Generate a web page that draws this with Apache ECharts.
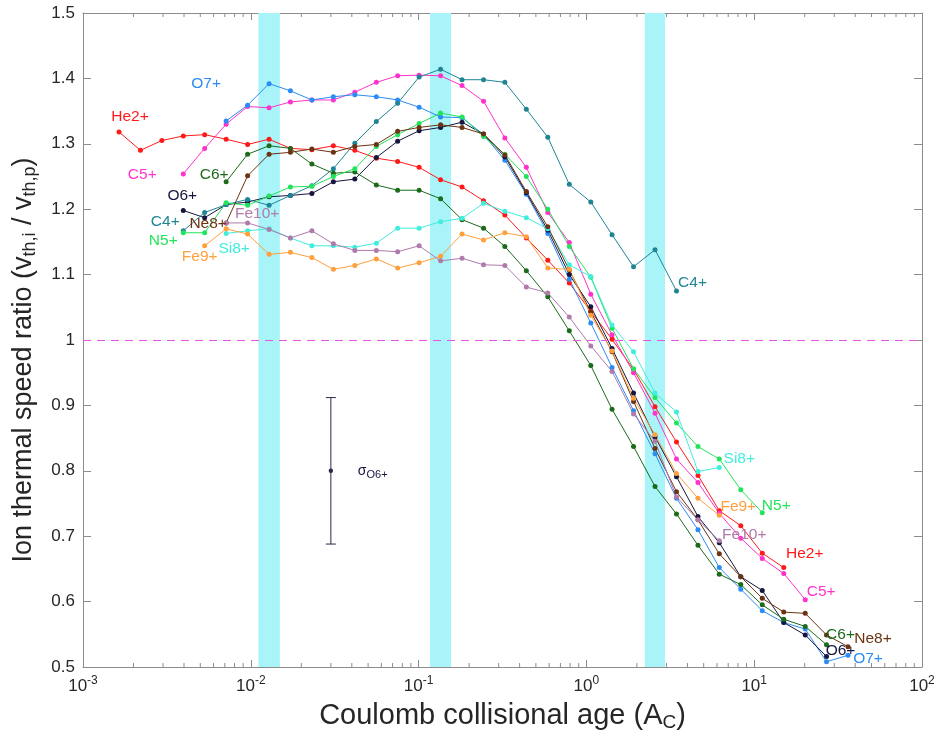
<!DOCTYPE html>
<html><head><meta charset="utf-8">
<script src="https://cdn.jsdelivr.net/npm/echarts@6/dist/echarts.min.js"></script>
<style>html,body{margin:0;padding:0;background:#fff}#c{width:941px;height:740px}</style>
</head><body><div id="c"></div>
<script>
// Shared bin centres (Coulomb collisional age A_C)
const xGrid = [0.00164,0.00220,0.00295,0.00396,0.00531,0.00713,0.00957,0.01285,0.01722,0.02312,0.03105,0.04169,0.05598,0.07499,0.1007,0.1352,0.1815,0.2438,0.3266,0.4385,0.5888,0.7907,1.062,1.422,1.910,2.564,3.443,4.624,6.194,8.318,11.17,15.00,20.14,26.98,36.22];

// series values (start index into xGrid, then values)
const he2Start = 0;  const he2  = [1.318,1.290,1.305,1.312,1.314,1.307,1.299,1.307,1.293,1.291,1.297,1.290,1.278,1.273,1.264,1.245,1.234,1.213,1.191,1.156,1.122,1.087,1.044,1.001,0.955,0.898,0.844,0.793,0.739,0.716,0.674,0.652];
const c5Start  = 3;  const c5   = [1.254,1.293,1.330,1.357,1.355,1.364,1.367,1.367,1.379,1.394,1.404,1.405,1.404,1.389,1.365,1.309,1.264,1.195,1.149,1.070,1.008,0.950,0.888,0.818,0.782,0.735,0.697,0.666,0.643,0.603];
const o7Start  = 5;  const o7   = [1.335,1.359,1.392,1.381,1.367,1.372,1.375,1.372,1.367,1.356,1.341,1.340,1.314,1.275,1.223,1.163,1.093,1.026,0.958,0.892,0.826,0.758,0.710,0.652,0.619,0.586,0.568,0.558,0.508,0.518];
const o6Start  = 3;  const o6   = [1.198,1.187,1.207,1.211,1.219,1.221,1.224,1.242,1.246,1.279,1.304,1.320,1.325,1.333,1.315,1.280,1.225,1.168,1.100,1.051,0.987,0.919,0.852,0.791,0.730,0.690,0.638,0.617,0.568,0.549,0.516];
const c4Start  = 3;  const c4   = [1.167,1.195,1.207,1.215,1.206,1.221,1.236,1.262,1.301,1.334,1.362,1.402,1.414,1.398,1.398,1.394,1.353,1.310,1.238,1.211,1.161,1.112,1.138,1.075];
const c6Start  = 5;  const c6   = [1.242,1.284,1.297,1.293,1.269,1.255,1.257,1.237,1.229,1.229,1.216,1.184,1.171,1.143,1.106,1.066,1.014,0.961,0.894,0.837,0.776,0.734,0.686,0.642,0.626,0.595,0.573,0.562,0.534];
const n5Start  = 3;  const n5   = [1.164,1.164,1.210,1.206,1.220,1.234,1.235,1.250,1.262,1.296,1.314,1.331,1.347,1.341,1.311,1.284,1.250,1.200,1.143,1.096,1.018,0.956,0.912,0.873,0.837,0.818,0.771,0.736];
const si8Start = 5;  const si8  = [1.163,1.167,1.170,1.156,1.144,1.144,1.142,1.148,1.171,1.171,1.181,1.186,1.209,1.197,1.187,1.170,1.115,1.097,1.023,0.982,0.919,0.890,0.799,0.805];
const ne8Start = 5;  const ne8  = [1.179,1.251,1.284,1.287,1.292,1.287,1.296,1.299,1.319,1.325,1.329,1.325,1.315,1.283,1.227,1.173,1.107,1.043,0.982,0.906,0.834,0.768,0.725,0.673,0.638,0.605,0.584,0.582,0.549,0.531];
const fe9Start = 4;  const fe9  = [1.144,1.170,1.162,1.131,1.134,1.126,1.108,1.114,1.124,1.110,1.118,1.128,1.162,1.153,1.164,1.158,1.110,1.108,1.038,0.983,0.911,0.855,0.796,0.758,0.732];
const fe10Start = 5; const fe10 = [1.179,1.179,1.169,1.156,1.167,1.147,1.137,1.137,1.135,1.144,1.121,1.125,1.115,1.114,1.081,1.072,1.035,0.991,0.952,0.887,0.845,0.760,0.725,0.693];

// shaded bands, reference line, error bar
const bands = [[0.0111,0.0149],[0.117,0.156],[2.23,2.94]];
const refLine = 1.0;
const errBar = [0.03, 0.800, 0.688, 0.912];
const yTicks = [0.5, 1.5, 0.1];
const xRange = [0.001, 100];

const FONT = 'Liberation Sans, Arial, sans-serif';
const TXT = '#262626';
const AX = '#8c8c8c';

// styling table: name, values, start, color, start label offset, end label offset
const specs = [
  ['He2+', he2, he2Start, '#ff1a1a', [11,-15], [21,-14]],
  ['C5+',  c5,  c5Start,  '#ff33cc', [-41,1],  [16,-8]],
  ['O7+',  o7,  o7Start,  '#2b8cf5', [-20,-37],[20,3]],
  ['O6+',  o6,  o6Start,  '#16163f', [-1,-15], [14,-6]],
  ['C4+',  c4,  c4Start,  '#1f8595', [-18,-9], [16,-8]],
  ['C6+',  c6,  c6Start,  '#1b6b1b', [-12,-7], [14,-10]],
  ['N5+',  n5,  n5Start,  '#22e45a', [-20,8],  [14,-7]],
  ['Si8+', si8, si8Start, '#3feedd', [8,15],   [20,-9]],
  ['Ne8+', ne8, ne8Start, '#6b3312', [-18,1],  [25,-8]],
  ['Fe9+', fe9, fe9Start, '#ffa03c', [-5,11],  [19,-9]],
  ['Fe10+',fe10,fe10Start,'#b07aab', [31,-9],  [25,-6]]
];

function lbl(name, color, off){
  return {show:true, position:'inside', offset:off, formatter:name, color:color,
          fontSize:15.5, fontFamily:FONT};
}

const lineSeries = specs.map(([name, vals, st, color, o1, o2]) => ({
  name, type:'line', z:3,
  symbol:'circle', symbolSize:5,
  lineStyle:{color, width:1}, itemStyle:{color},
  data: vals.map((v,i) => {
    const item = {value:[xGrid[st+i], v]};
    if (i === 0) item.label = lbl(name, color, o1);
    else if (i === vals.length-1) item.label = lbl(name, color, o2);
    return item;
  }),
  label:{show:false}, emphasis:{disabled:true}, animation:false
}));

// minor ticks of log axis (2..9 per decade)
const minorVals = [];
for (let e = -3; e < 2; e++) for (let m = 2; m <= 9; m++) minorVals.push([m*Math.pow(10,e), 1]);

const option = {
  backgroundColor:'#fff',
  animation:false,
  grid:{left:83, right:19, top:13, bottom:73, containLabel:false},
  xAxis:[{
    type:'log', logBase:10, min:xRange[0], max:xRange[1], position:'bottom',
    axisLine:{show:true, onZero:false, lineStyle:{color:AX, width:1}},
    axisTick:{show:true, inside:true, length:7, lineStyle:{color:AX}},
    splitLine:{show:false}, minorTick:{show:false},
    axisLabel:{color:TXT, fontSize:17, fontFamily:FONT, margin:8,
      formatter: v => '10{sup|' + Math.round(Math.log10(v)) + '}',
      rich:{sup:{fontSize:12, color:TXT, fontFamily:FONT, padding:[0,0,11,0]}}},
    name:'Coulomb collisional age (A{sub|C})', nameLocation:'middle', nameGap:32,
    nameTextStyle:{fontSize:29, color:TXT, fontFamily:FONT,
      rich:{sub:{fontSize:19, color:TXT, fontFamily:FONT, padding:[14,0,0,0]}}}
  },{
    type:'log', logBase:10, min:xRange[0], max:xRange[1], position:'top',
    axisLine:{show:true, onZero:false, lineStyle:{color:AX, width:1}},
    axisTick:{show:true, inside:true, length:7, lineStyle:{color:AX}},
    axisLabel:{show:false}, splitLine:{show:false}
  }],
  yAxis:[{
    type:'value', min:yTicks[0], max:yTicks[1], interval:yTicks[2], position:'left',
    axisLine:{show:true, onZero:false, lineStyle:{color:AX, width:1}},
    axisTick:{show:true, inside:true, length:8, lineStyle:{color:AX}},
    splitLine:{show:false},
    axisLabel:{color:TXT, fontSize:17, fontFamily:FONT, margin:8,
      formatter: v => String(Math.round(v*10)/10)},
    name:'Ion thermal speed ratio (v{sub|th,i} / v{sub|th,p})', nameLocation:'middle', nameGap:44, nameRotate:90,
    nameTextStyle:{fontSize:27, color:TXT, fontFamily:FONT, padding:[0,40,0,0],
      rich:{sub:{fontSize:18, color:TXT, fontFamily:FONT, padding:[13,0,0,0]}}}
  },{
    type:'value', min:yTicks[0], max:yTicks[1], interval:yTicks[2], position:'right',
    axisLine:{show:true, onZero:false, lineStyle:{color:AX, width:1}},
    axisTick:{show:true, inside:true, length:8, lineStyle:{color:AX}},
    axisLabel:{show:false}, splitLine:{show:false}
  }],
  series:[
    {type:'line', name:'bands', data:[], z:0, silent:true,
     markArea:{silent:true, itemStyle:{color:'#a8f4f8', opacity:1},
       data: bands.map(b => [{xAxis:b[0]}, {xAxis:b[1]}])},
     markLine:{silent:true, symbol:['none','none'], label:{show:false},
       lineStyle:{color:'#e455e4', width:1, type:[8,6]},
       data:[{yAxis:refLine}]}
    },
    {type:'custom', name:'minorTicks', silent:true, z:1, data:minorVals,
     renderItem:(params, api) => {
       const x = api.coord([api.value(0), 1])[0];
       const cs = params.coordSys;
       return {type:'group', children:[
         {type:'line', shape:{x1:x, y1:cs.y+cs.height, x2:x, y2:cs.y+cs.height-4}, style:{stroke:AX, lineWidth:1}},
         {type:'line', shape:{x1:x, y1:cs.y, x2:x, y2:cs.y+4}, style:{stroke:AX, lineWidth:1}}
       ]};
     }},
    ...lineSeries,
    {type:'custom', name:'sigma', silent:true, z:4, data:[errBar],
     renderItem:(params, api) => {
       const c = api.coord([api.value(0), api.value(1)]);
       const lo = api.coord([api.value(0), api.value(2)]);
       const hi = api.coord([api.value(0), api.value(3)]);
       const col = '#2a2a48';
       return {type:'group', children:[
         {type:'line', shape:{x1:c[0], y1:lo[1], x2:c[0], y2:hi[1]}, style:{stroke:col, lineWidth:1}},
         {type:'line', shape:{x1:c[0]-5, y1:lo[1], x2:c[0]+5, y2:lo[1]}, style:{stroke:col, lineWidth:1}},
         {type:'line', shape:{x1:c[0]-5, y1:hi[1], x2:c[0]+5, y2:hi[1]}, style:{stroke:col, lineWidth:1}},
         {type:'circle', shape:{cx:c[0], cy:c[1], r:2.2}, style:{fill:col}},
         {type:'text', x:c[0]+27, y:c[1], style:{text:'{s|σ}{b|O6+}', align:'left', verticalAlign:'middle',
           rich:{s:{fontSize:14, fill:'#16163f', fontFamily:FONT},
                 b:{fontSize:11, fill:'#16163f', fontFamily:FONT, padding:[9,0,0,0]}}}}
       ]};
     }}
  ]
};

const chart = echarts.init(document.getElementById('c'), null, {renderer:'canvas'});
chart.setOption(option);
</script>
</body></html>
